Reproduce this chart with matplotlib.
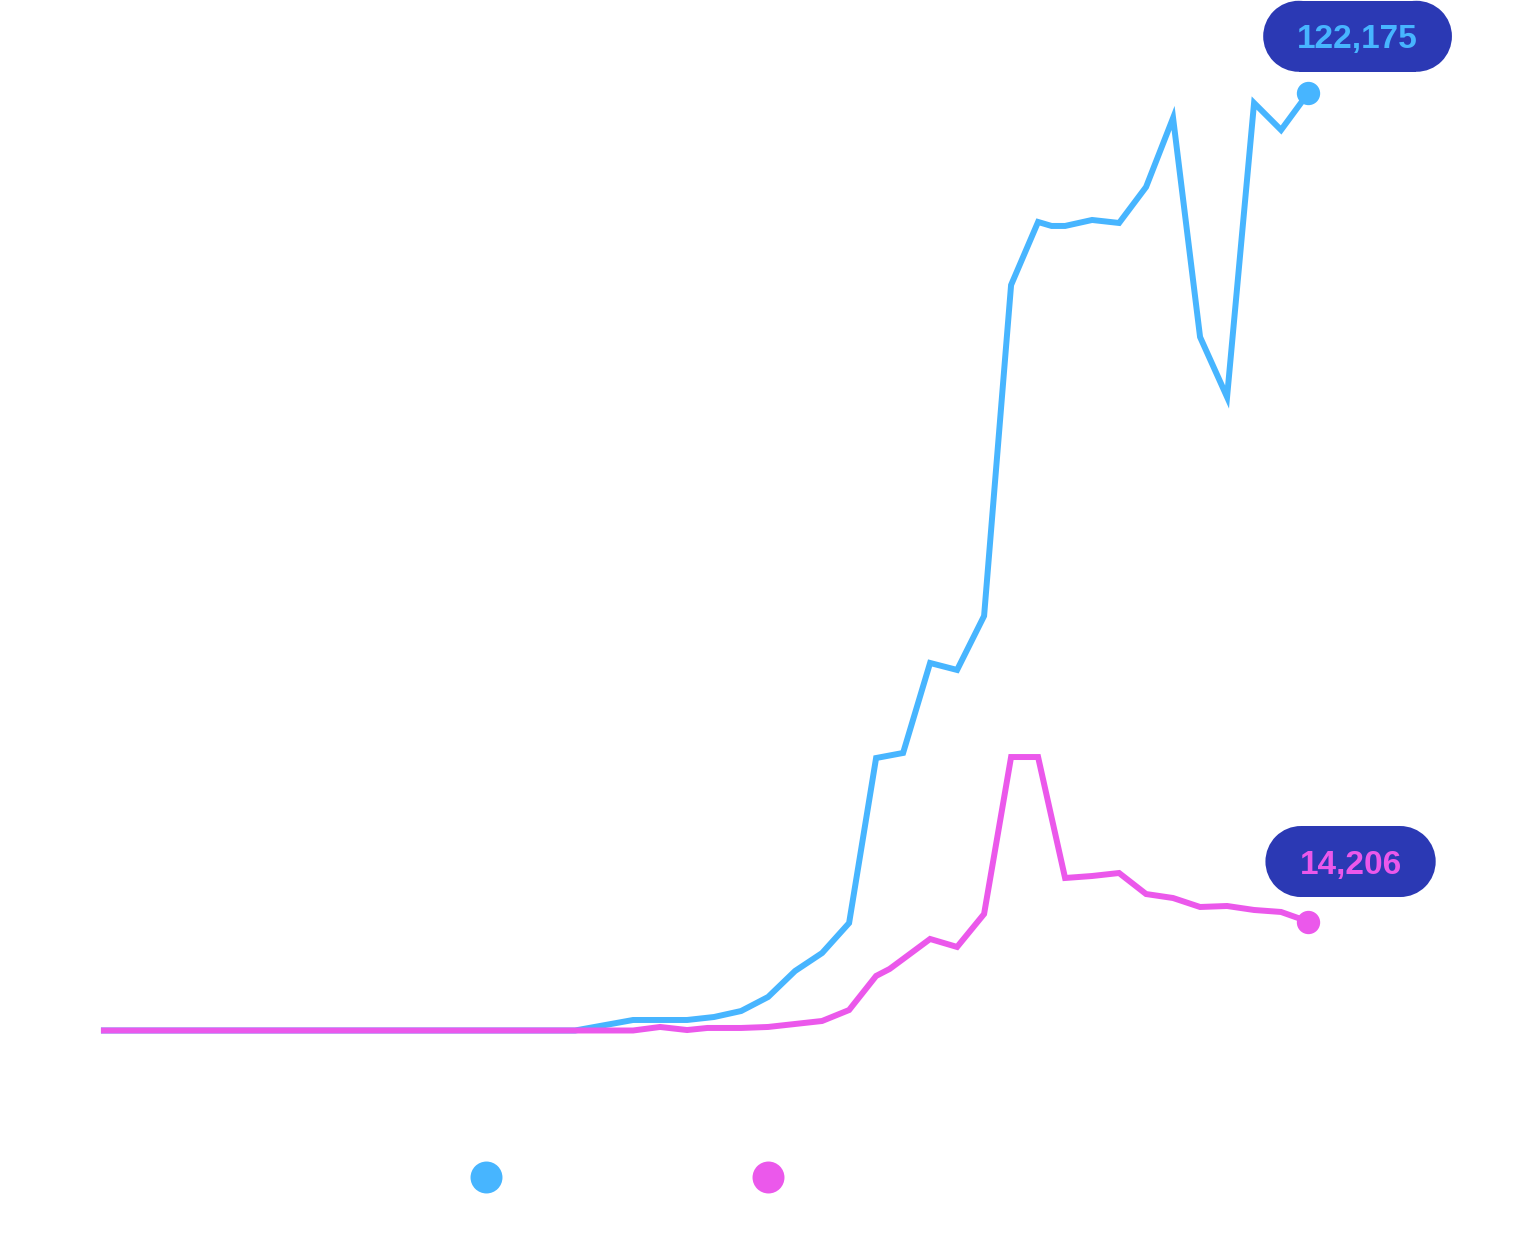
import matplotlib
matplotlib.use("Agg")
import matplotlib.pyplot as plt
from matplotlib.lines import Line2D
from matplotlib.patches import Rectangle, Circle
from matplotlib.transforms import IdentityTransform

blue_years = [1978.4, 1984.1, 1995.85, 1998, 1999, 2000, 2001, 2002, 2003, 2004, 2005,
              2006, 2007, 2008, 2009, 2010, 2011, 2012, 2013, 2013.5, 2014, 2015,
              2016, 2017, 2018, 2019, 2020, 2021, 2022, 2023]
blue_values = [0, 0, 0, 1370, 1370, 1370, 1760, 2540, 4370, 7760, 10100,
               14010, 35520, 36180, 47910, 47000, 54040, 97180, 105400, 104880, 104880, 105660,
               105270, 109960, 118960, 90400, 82580, 120910, 117390, 122175]

pink_years = [1978.4, 1984.1, 1995.85, 1998, 1999, 2000, 2000.75, 2002, 2003, 2004, 2005,
              2006, 2007, 2007.5, 2008, 2009, 2010, 2011, 2012, 2013, 2014, 2015,
              2016, 2017, 2018, 2019, 2020, 2021, 2022, 2023]
pink_values = [0, 0, 0, 0, 460, 60, 330, 330, 460, 850, 1240,
               2670, 7110, 8020, 9320, 11930, 10890, 15190, 35650, 35650, 19880, 20140,
               20530, 17790, 17270, 16100, 16230, 15710, 15450, 14206]

BLUE = "#47B5FF"
PINK = "#EB58EB"
NAVY = "#2B39B4"

fig = plt.figure(figsize=(15.2, 12.4), dpi=100)
ax = fig.add_axes([0, 0, 1, 1])
ax.set_xlim(1974.55, 2030.85)
ax.set_ylim(-27311, 134336)
ax.axis("off")

ax.plot(blue_years, blue_values, color=BLUE, lw=4.3, solid_joinstyle="miter", zorder=2)
ax.plot(pink_years, pink_values, color=PINK, lw=4.3, solid_joinstyle="miter", zorder=2.1)

# end dots + value pills
ends = [
    (blue_years[-1], blue_values[-1], BLUE, (49.5, 45)),
    (pink_years[-1], pink_values[-1], PINK, (42.5, 48)),
]
texts = []
for x, y, c, off in ends:
    ax.plot([x], [y], "o", color=c, ms=16.8, mec="none", zorder=3)
    t = ax.annotate(f"{y:,}", xy=(x, y), xytext=off, textcoords="offset pixels",
                    ha="center", va="baseline", color=c, fontsize=24,
                    fontweight="bold", family="Liberation Sans", zorder=5)
    texts.append(t)


def pill(cx, cy, w, h, color):
    r = h / 2
    parts = [Rectangle((cx - w / 2 + r, cy - r), w - 2 * r, h),
             Circle((cx - w / 2 + r, cy), r),
             Circle((cx + w / 2 - r, cy), r)]
    for p in parts:
        p.set_facecolor(color)
        p.set_edgecolor("none")
        p.set_transform(IdentityTransform())
        p.set_clip_on(False)
        p.set_zorder(4)
        ax.add_artist(p)


fig.canvas.draw()
for t in texts:
    bb = t.get_window_extent()
    base = ax.transData.transform(t.xy)[1] + t.xyann[1]
    pill((bb.x0 + bb.x1) / 2, base + 12, bb.width + 68, 71, NAVY)

handles = [Line2D([], [], ls="none", marker="o", ms=23, color=BLUE, mec="none"),
           Line2D([], [], ls="none", marker="o", ms=23, color=PINK, mec="none")]
ax.legend(handles, ["", ""], ncol=2, loc="center", frameon=False,
          bbox_to_anchor=(630.5 / 1520, 1 - 1178 / 1240), bbox_transform=fig.transFigure,
          fontsize=10, handlelength=1, handletextpad=0.5, columnspacing=18.8,
          borderpad=0)

fig.savefig("out.png", dpi=100, facecolor="white")
